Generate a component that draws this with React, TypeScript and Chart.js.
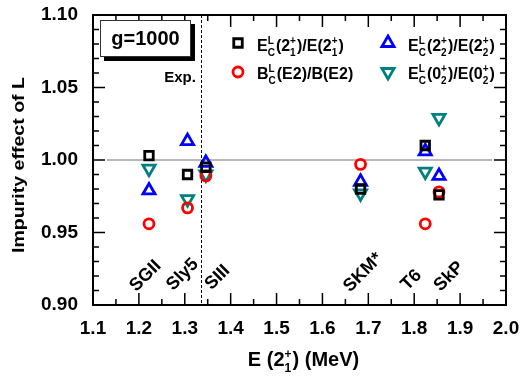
import React, { useEffect, useRef } from "react";
import { Chart, registerables } from "chart.js";

Chart.register(...registerables);

const FONT = "'Liberation Sans', Arial, sans-serif";

// Model x positions (E(2_1^+) in MeV): SGII, Sly5, SIII, SKM*, T6, SkP
const modelNames = ["SGII", "Sly5", "SIII", "SKM*", "T6", "SkP"];
const modelE = [1.222, 1.306, 1.346, 1.683, 1.824, 1.854];
// label centres (data units)
const labelX = [1.2144, 1.295, 1.3713, 1.6884, 1.794, 1.8758];
const labelY = [0.92, 0.921, 0.919, 0.9224, 0.9172, 0.9197];

const ratioE21 = [1.003, 0.99, 0.995, 0.98, 1.01, 0.976];
const ratioBE2 = [0.956, 0.967, 0.989, 0.997, 0.956, 0.978];
const ratioE22 = [0.979, 1.013, 0.998, 0.985, 1.006, 0.989];
const ratioE02 = [0.994, 0.973, 0.99, 0.977, 0.992, 1.029];

const expE = 1.335;
const xTicks = [1.1, 1.2, 1.3, 1.4, 1.5, 1.6, 1.7, 1.8, 1.9, 2.0];
const yTicks = [0.9, 0.95, 1.0, 1.05, 1.1];

const BLACK = "#000000";
const RED = "#ff0000";
const BLUE = "#0000ff";
const TEAL = "#008080";

type Seg = string | { sup: string; sub: string };

function richWidth(ctx: CanvasRenderingContext2D, segs: Seg[], size: number, ss: number) {
  let w = 0;
  for (const s of segs) {
    if (typeof s === "string") {
      ctx.font = `bold ${size}px ${FONT}`;
      w += ctx.measureText(s).width;
    } else {
      ctx.font = `bold ${ss}px ${FONT}`;
      w += Math.max(ctx.measureText(s.sup).width, ctx.measureText(s.sub).width) + 1;
    }
  }
  return w;
}

function drawRich(ctx: CanvasRenderingContext2D, segs: Seg[], x: number, y: number, size: number, ss: number) {
  let cx = x;
  ctx.textAlign = "left";
  ctx.textBaseline = "alphabetic";
  for (const s of segs) {
    if (typeof s === "string") {
      ctx.font = `bold ${size}px ${FONT}`;
      ctx.fillText(s, cx, y);
      cx += ctx.measureText(s).width;
    } else {
      ctx.font = `bold ${ss}px ${FONT}`;
      const w = Math.max(ctx.measureText(s.sup).width, ctx.measureText(s.sub).width);
      ctx.fillText(s.sup, cx, y - size * 0.42);
      ctx.fillText(s.sub, cx, y + size * 0.3);
      cx += w + 1;
    }
  }
}

function marker(ctx: CanvasRenderingContext2D, style: string, x: number, y: number, r: number, color: string, lw: number, rot = 0) {
  ctx.save();
  ctx.strokeStyle = color;
  ctx.lineWidth = lw;
  ctx.beginPath();
  if (style === "rect") {
    const s = Math.SQRT1_2 * r;
    ctx.rect(x - s, y - s, 2 * s, 2 * s);
  } else if (style === "circle") {
    ctx.arc(x, y, r, 0, Math.PI * 2);
  } else {
    let rad = (rot * Math.PI) / 180;
    ctx.moveTo(x + Math.sin(rad) * r, y - Math.cos(rad) * r);
    rad += (2 * Math.PI) / 3;
    ctx.lineTo(x + Math.sin(rad) * r, y - Math.cos(rad) * r);
    rad += (2 * Math.PI) / 3;
    ctx.lineTo(x + Math.sin(rad) * r, y - Math.cos(rad) * r);
    ctx.closePath();
  }
  ctx.stroke();
  ctx.restore();
}

const legendItems: { style: string; color: string; rot: number; segs: Seg[] }[] = [
  { style: "rect", color: BLACK, rot: 0, segs: ["E", { sup: "L", sub: "C" }, "(2", { sup: "+", sub: "1" }, ")/E(2", { sup: "+", sub: "1" }, ")"] },
  { style: "circle", color: RED, rot: 0, segs: ["B", { sup: "L", sub: "C" }, "(E2)/B(E2)"] },
  { style: "triangle", color: BLUE, rot: 0, segs: ["E", { sup: "L", sub: "C" }, "(2", { sup: "+", sub: "2" }, ")/E(2", { sup: "+", sub: "2" }, ")"] },
  { style: "triangle", color: TEAL, rot: 180, segs: ["E", { sup: "L", sub: "C" }, "(0", { sup: "+", sub: "2" }, ")/E(0", { sup: "+", sub: "2" }, ")"] },
];

const RECT_R = 6;
const CIRC_R = 5;
const TRI_R = 7;
const MLW = 2.8;

const decorPlugin = {
  id: "decor",
  beforeDatasetsDraw(chart: any) {
    const { ctx, chartArea: a, scales } = chart;
    const xs = scales.x, ys = scales.y;
    ctx.save();
    // grey reference line at 1.00
    ctx.strokeStyle = "#a0a0a0";
    ctx.lineWidth = 1.5;
    ctx.beginPath();
    ctx.moveTo(xs.getPixelForValue(1.13), ys.getPixelForValue(1.0));
    ctx.lineTo(xs.getPixelForValue(1.97), ys.getPixelForValue(1.0));
    ctx.stroke();
    // experimental dashed line
    ctx.strokeStyle = "#000";
    ctx.lineWidth = 1;
    ctx.setLineDash([3, 2]);
    const ex = Math.round(xs.getPixelForValue(expE)) + 0.5;
    ctx.beginPath();
    ctx.moveTo(ex, a.top);
    ctx.lineTo(ex, a.bottom);
    ctx.stroke();
    ctx.setLineDash([]);
    ctx.restore();
  },
  afterDraw(chart: any) {
    const { ctx, chartArea: a, scales } = chart;
    const xs = scales.x, ys = scales.y;
    ctx.save();
    ctx.fillStyle = "#000";
    ctx.strokeStyle = "#000";
    // ticks (inward)
    ctx.lineWidth = 1.5;
    ctx.beginPath();
    for (let i = 0; i <= 18; i++) {
      const v = 1.1 + i * 0.05;
      const px = xs.getPixelForValue(v);
      const L = i % 2 === 0 ? 12 : 6;
      ctx.moveTo(px, a.bottom);
      ctx.lineTo(px, a.bottom - L);
      ctx.moveTo(px, a.top);
      ctx.lineTo(px, a.top + L);
    }
    for (let i = 0; i <= 20; i++) {
      const v = 0.9 + i * 0.01;
      const py = ys.getPixelForValue(v);
      const L = i % 5 === 0 ? 12 : 6;
      ctx.moveTo(a.left, py);
      ctx.lineTo(a.left + L, py);
      ctx.moveTo(a.right, py);
      ctx.lineTo(a.right - L, py);
    }
    ctx.stroke();
    // frame
    ctx.lineWidth = 2;
    ctx.strokeRect(a.left, a.top, a.right - a.left, a.bottom - a.top);

    // model labels
    ctx.font = `bold 18px ${FONT}`;
    ctx.textAlign = "center";
    ctx.textBaseline = "middle";
    modelNames.forEach((n, i) => {
      ctx.save();
      ctx.translate(xs.getPixelForValue(labelX[i]), ys.getPixelForValue(labelY[i]));
      ctx.rotate(-Math.PI / 4);
      ctx.fillText(n, 0, 0);
      ctx.restore();
    });

    // g=1000 box
    const bx = a.left + 7, by = a.top + 5, bw = 91, bh = 37;
    ctx.fillStyle = "#000";
    ctx.fillRect(bx + 4, by + 4, bw, bh);
    ctx.fillStyle = "#fff";
    ctx.fillRect(bx, by, bw, bh);
    ctx.lineWidth = 1;
    ctx.strokeStyle = "#333";
    ctx.strokeRect(bx + 0.5, by + 0.5, bw - 1, bh - 1);
    ctx.fillStyle = "#000";
    ctx.font = `bold 20px ${FONT}`;
    ctx.textAlign = "center";
    ctx.textBaseline = "middle";
    ctx.fillText("g=1000", bx + bw / 2, by + bh / 2 + 1);

    // Exp.
    ctx.font = `bold 15px ${FONT}`;
    ctx.textAlign = "right";
    ctx.textBaseline = "alphabetic";
    ctx.fillText("Exp.", xs.getPixelForValue(expE) - 5, a.top + 67);

    // legend
    const cols = [238, 388];
    const rows = [a.top + 28, a.top + 57];
    const textX = [257, 408];
    const base = [a.top + 36, a.top + 64];
    const pos = [
      [0, 0],
      [0, 1],
      [1, 0],
      [1, 1],
    ];
    legendItems.forEach((it, i) => {
      const [c, r] = pos[i];
      const rr = it.style === "triangle" ? TRI_R : it.style === "circle" ? CIRC_R : RECT_R;
      marker(ctx, it.style, cols[c], rows[r], rr, it.color, MLW, it.rot);
      ctx.fillStyle = "#000";
      drawRich(ctx, it.segs, textX[c], base[r], 16, 10);
    });

    // x title
    const xt: Seg[] = ["E (2", { sup: "+", sub: "1" }, ") (MeV)"];
    const w = richWidth(ctx, xt, 20, 12);
    drawRich(ctx, xt, (a.left + a.right) / 2 - w / 2 + 4, 366, 20, 12);

    // y title
    ctx.save();
    ctx.translate(24, 165);
    ctx.rotate(-Math.PI / 2);
    ctx.scale(1.15, 1);
    ctx.font = `bold 17px ${FONT}`;
    ctx.textAlign = "center";
    ctx.textBaseline = "alphabetic";
    ctx.fillText("Impurity effect of L", 0, 0);
    ctx.restore();

    ctx.restore();
  },
};

function pts(vals: number[]) {
  return vals.map((v, i) => ({ x: modelE[i], y: v }));
}

export default function App() {
  const ref = useRef<HTMLCanvasElement>(null);
  useEffect(() => {
    document.body.style.margin = "0";
    const tickFont = { family: FONT, size: 19, weight: "bold" as const };
    const chart = new Chart(ref.current!, {
      type: "scatter",
      data: {
        datasets: [
          { data: pts(ratioE21), pointStyle: "rect", pointRadius: RECT_R, borderColor: BLACK, backgroundColor: "rgba(0,0,0,0)", pointBorderWidth: MLW },
          { data: pts(ratioBE2), pointStyle: "circle", pointRadius: CIRC_R, borderColor: RED, backgroundColor: "rgba(0,0,0,0)", pointBorderWidth: MLW },
          { data: pts(ratioE02), pointStyle: "triangle", pointRotation: 180, pointRadius: TRI_R, borderColor: TEAL, backgroundColor: "rgba(0,0,0,0)", pointBorderWidth: MLW },
          { data: pts(ratioE22), pointStyle: "triangle", pointRadius: TRI_R, borderColor: BLUE, backgroundColor: "rgba(0,0,0,0)", pointBorderWidth: MLW },
        ],
      },
      options: {
        animation: false,
        responsive: false,
        layout: { padding: { left: 0, top: 15, right: 18, bottom: 0 } },
        plugins: { legend: { display: false }, tooltip: { enabled: false } },
        scales: {
          x: {
            type: "linear",
            min: 1.1,
            max: 2.0,
            afterBuildTicks: (s: any) => {
              s.ticks = xTicks.map((v) => ({ value: v }));
            },
            afterFit: (s: any) => {
              s.height = 73;
              s.paddingLeft = 0;
              s.paddingRight = 0;
            },
            ticks: {
              autoSkip: false,
              maxRotation: 0,
              padding: 12,
              color: "#000",
              font: tickFont,
              callback: (v: any) => Number(v).toFixed(1),
            },
            grid: { display: false, drawTicks: false },
            border: { display: false },
          },
          y: {
            type: "linear",
            min: 0.9,
            max: 1.1,
            afterBuildTicks: (s: any) => {
              s.ticks = yTicks.map((v) => ({ value: v }));
            },
            afterFit: (s: any) => {
              s.width = 93;
              s.paddingTop = 0;
              s.paddingBottom = 0;
            },
            ticks: {
              padding: 15,
              color: "#000",
              font: tickFont,
              callback: (v: any) => Number(v).toFixed(2),
            },
            grid: { display: false, drawTicks: false },
            border: { display: false },
          },
        },
      },
      plugins: [decorPlugin],
    });
    return () => chart.destroy();
  }, []);
  return (
    <div style={{ width: 524, height: 378 }}>
      <canvas ref={ref} width={524} height={378} />
    </div>
  );
}
